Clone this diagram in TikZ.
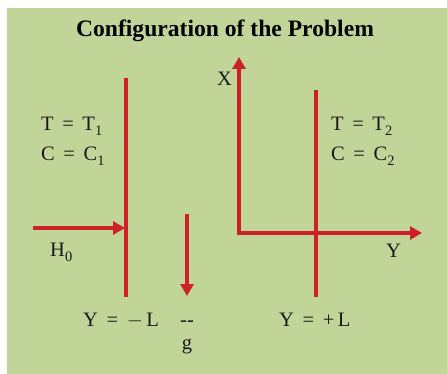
\documentclass[tikz,border=0pt]{standalone}
\usepackage{fontspec}
\setmainfont{Liberation Serif}
\usetikzlibrary{arrows.meta}
\definecolor{bggreen}{RGB}{194,213,153}
\definecolor{wallred}{RGB}{206,32,40}
\newcommand{\eqsp}{\hspace{0.42em}}
\newcommand{\lowsub}[1]{\raisebox{-5pt}{\fontsize{14.5}{14}\selectfont #1}}
\begin{document}
\begin{tikzpicture}[x=1pt,y=-1pt,
  redline/.style={draw=wallred,line width=3.5pt},
  redarrow/.style={redline,-{Triangle[width=13pt,length=12pt]}},
  lbl/.style={font=\fontsize{20.5}{25}\selectfont,inner sep=0pt,text=black!90,anchor=base west}]
\useasboundingbox (0,0) rectangle (447,374);
\fill[bggreen] (7,8) rectangle (447,374);
\node[font=\bfseries\fontsize{23.6}{28}\selectfont,inner sep=0pt,anchor=base] (title) at (225,37) {Configuration of the Problem};
% walls
\coordinate (lwtop) at (126,78);
\coordinate (lwbot) at (126,297);
\draw[redline] (lwtop) -- (lwbot);
\coordinate (rwtop) at (316,90);
\coordinate (rwbot) at (316,297);
\draw[redline] (rwtop) -- (rwbot);
% axes
\coordinate (origin) at (239,233);
\coordinate (xtip) at (239,57);
\coordinate (ytip) at (422,233);
\draw[redarrow] ([yshift=-1.75pt]origin) -- (xtip);
\draw[redarrow] ([xshift=-1.75pt]origin) -- (ytip);
% H0 arrow
\coordinate (hstart) at (33,228);
\coordinate (hend) at (125,228);
\draw[redarrow] (hstart) -- (hend);
% g arrow
\coordinate (gstart) at (187,214);
\coordinate (gend) at (187,296);
\draw[redarrow] (gstart) -- (gend);
% labels
\node[lbl] (xl) at (217,86) {X};
\node[lbl] (yl) at (386,257) {Y};
\node[lbl] (t1) at (41,131) {T\eqsp=\eqsp T\lowsub{1}};
\node[lbl] (c1) at (41,161) {C\eqsp=\eqsp C\lowsub{1}};
\node[lbl] (t2) at (331,131) {T\eqsp=\eqsp T\lowsub{2}};
\node[lbl] (c2) at (331,161) {C\eqsp=\eqsp C\lowsub{2}};
\node[lbl] (h0) at (50,256) {H\lowsub{0}};
\node[lbl] (yml) at (83,326) {Y\eqsp=\eqsp$-$\,L};
\node[lbl,anchor=base] (dash) at (187,326) {{-}{-}};
\node[lbl,anchor=base] (g) at (187,349) {g};
\node[lbl] (ypl) at (279,326) {Y\eqsp=\eqsp+\,L};
\end{tikzpicture}
\end{document}
